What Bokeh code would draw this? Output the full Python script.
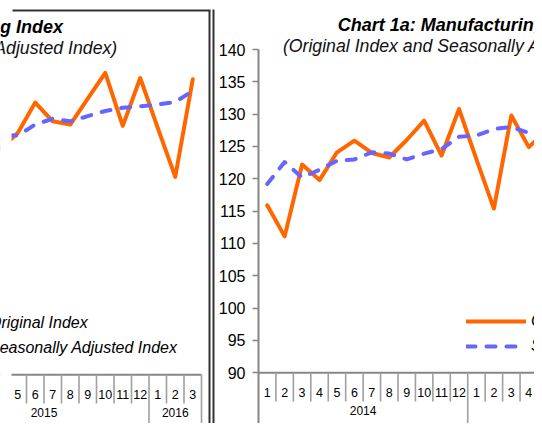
from bokeh.plotting import figure
from bokeh.models import LinearAxis, FixedTicker, Label, Legend, LegendItem, Range1d
from bokeh.layouts import row
from bokeh.core.properties import value
from bokeh.embed import file_html
from bokeh.resources import INLINE

# ---------------- data ----------------
YEARS = ["2014", "2015", "2016"]
YEAR_LENGTHS = [12, 12, 3]
MONTHS = ["1", "2", "3", "4", "5", "6", "7", "8", "9", "10", "11", "12",
          "1", "2", "3", "4", "5", "6", "7", "8", "9", "10", "11", "12",
          "1", "2", "3"]
ORIGINAL = [115.9, 111.1, 122.2, 119.8, 124.1, 125.9, 124.0, 123.3, 126.0, 129.0, 123.6, 130.8,
            123.0, 115.4, 129.8, 124.9, 127.4, 132.1, 129.2, 128.7, 132.7, 136.7, 128.5, 135.9,
            128.2, 120.6, 135.7]
SEASONALLY_ADJUSTED = [119.2, 122.6, 120.2, 121.4, 122.8, 123.0, 124.1, 123.9, 123.0, 123.9, 124.6, 126.5,
                       126.7, 127.7, 128.0, 127.1, 127.0, 128.7, 129.6, 129.2, 130.0, 130.8, 131.3, 131.5,
                       131.8, 132.2, 133.9]
Y_TICKS = [90, 95, 100, 105, 110, 115, 120, 125, 130, 135, 140]
SERIES = ["Original Index", "Seasonally Adjusted Index"]
TITLE = "Chart 1a: Manufacturing Index"
SUBTITLE = "(Original Index and Seasonally Adjusted Index)"

# ---------------- style / layout ----------------
FONT = "Liberation Sans"
ORANGE = "#FF6600"
BLUE = "#6666FF"
AXIS_GREY = "#868686"
CELL_GREY = "#a0a0a0"
FRAME_DARK = "#333333"

PPC = 17.5      # pixels per category
PPU = 6.466     # pixels per index point
H = 423
Y_MIN, Y_MAX = 90, 140

MONTH_TEXT_Y = Y_MIN - 19.5 / PPU
YEAR_TEXT_Y = Y_MIN - 37.5 / PPU
CELL_TICK_Y = Y_MIN - 28.7 / PPU
GROUP_TICK_Y = Y_MIN - 75 / PPU
TITLE_Y = Y_MAX + 25 / PPU
SUBTITLE_Y = Y_MAX + 3.5 / PPU
LEGEND_BOTTOM = Y_MAX - 306.7 / PPU

n = len(MONTHS)
xs = list(range(n))

# year group geometry (derived from data)
starts, ends = [], []
acc = 0
for L in YEAR_LENGTHS:
    starts.append(acc)
    acc += L
    ends.append(acc)
year_centers = [(s + e - 1) / 2 for s, e in zip(starts, ends)]
short_sep = [i + 0.5 for i in range(n - 1) if (i + 1) not in starts]
long_sep = [e - 0.5 for e in ends]


def make_figure(width, x_start, y_end, border_left):
    frame_w = width - border_left
    p = figure(width=width, height=H,
               x_range=Range1d(x_start, x_start + frame_w / PPC),
               y_range=Range1d(y_end - H / PPU, y_end),
               x_axis_location=None, y_axis_location=None,
               toolbar_location=None, output_backend="svg",
               min_border_left=border_left, min_border_right=0,
               min_border_top=0, min_border_bottom=0,
               outline_line_color=None,
               background_fill_color="white", border_fill_color="white")
    p.grid.visible = False
    return p


def draw_chart(p, title_x, legend_x, mask_right=None):
    x_start, x_end = p.x_range.start, p.x_range.end
    y_start, y_end = p.y_range.start, p.y_range.end
    # series
    r1 = p.line(xs, ORIGINAL, line_color=ORANGE, line_width=4,
                line_join="round", line_cap="round")
    r2 = p.line(xs, SEASONALLY_ADJUSTED, line_color=BLUE, line_width=4,
                line_dash="9 11", line_join="round", line_cap="round")
    # category axis
    p.segment(x0=[-0.5], y0=[Y_MIN], x1=[n - 0.5], y1=[Y_MIN],
              line_color=AXIS_GREY, line_width=2)
    p.segment(x0=short_sep, y0=[Y_MIN] * len(short_sep), x1=short_sep,
              y1=[CELL_TICK_Y] * len(short_sep), line_color=CELL_GREY, line_width=1.6)
    p.segment(x0=long_sep, y0=[Y_MIN] * len(long_sep), x1=long_sep,
              y1=[GROUP_TICK_Y] * len(long_sep), line_color=CELL_GREY, line_width=1.6)
    if mask_right is not None:
        # the crop of the left-hand chart object hides its plot edge
        p.quad(left=[x_start - 3], right=[mask_right], bottom=[y_start - 3],
               top=[y_end + 3], fill_color="white", line_color="white", line_width=2)
        edge = x_start + (mask_right - x_start) * 0.3
        p.segment(x0=[edge], y0=[y_start - 3], x1=[edge], y1=[y_end + 3],
                  line_color="white", line_width=9)
    vis_m = [i for i in xs if x_start + 0.25 <= i <= x_end - 0.25]
    p.text(x=vis_m, y=[MONTH_TEXT_Y] * len(vis_m), text=[MONTHS[i] for i in vis_m],
           text_align="center", text_baseline="middle", text_font=value(FONT),
           text_font_size=value("12.5px"), text_color="black")
    vis_y = [k for k, c in enumerate(year_centers) if x_start + 0.8 <= c <= x_end - 0.8]
    p.text(x=[year_centers[k] for k in vis_y], y=[YEAR_TEXT_Y] * len(vis_y),
           text=[YEARS[k] for k in vis_y], text_align="center",
           text_baseline="middle", text_font=value(FONT), text_font_size=value("12px"),
           text_color="black")
    # titles
    p.add_layout(Label(x=title_x, y=TITLE_Y, text=TITLE, text_align="center",
                       text_baseline="middle", text_font=FONT, text_font_style="bold italic",
                       text_font_size="18px", text_color="black"))
    p.add_layout(Label(x=title_x, y=SUBTITLE_Y, text=SUBTITLE, text_align="center",
                       text_baseline="middle", text_font=FONT, text_font_style="italic",
                       text_font_size="17.7px", text_color="#111111"))
    # legend
    legend = Legend(items=[LegendItem(label=SERIES[0], renderers=[r1]),
                           LegendItem(label=SERIES[1], renderers=[r2])],
                    location=((legend_x - x_start) * PPC, (LEGEND_BOTTOM - y_start) * PPU),
                    glyph_width=60, glyph_height=20, label_height=20, spacing=5,
                    padding=0, margin=0, label_standoff=5,
                    border_line_alpha=0, background_fill_alpha=0,
                    label_text_font=FONT, label_text_font_style="italic",
                    label_text_font_size="16px", label_text_color="black")
    p.add_layout(legend)


# ---------------- left panel (right-hand part of the chart) ----------------
LEFT_W = 215
left_x_start = (n - 0.5) - 201 / PPC
left_y_end = Y_MAX + 51 / PPU
left = make_figure(LEFT_W, left_x_start, left_y_end, 0)


def lx(px):
    return left_x_start + px / PPC


def ly(py):
    return left_y_end - py / PPU


draw_chart(left, title_x=lx(-67), legend_x=lx(-76), mask_right=lx(10))

# frames of the two chart objects
left.segment(x0=[lx(12), lx(209), lx(213)],
             y0=[ly(10), ly(10), ly(9)],
             x1=[lx(210), lx(209), lx(213)],
             y1=[ly(10), ly(440), ly(440)],
             line_color=FRAME_DARK, line_width=2)

# ---------------- right panel (left-hand part of the chart) ----------------
RIGHT_W = 319
AXIS_PX = 257   # position of the value axis in the picture
right = make_figure(RIGHT_W, -0.5, Y_MAX + 49 / PPU, AXIS_PX - LEFT_W)


def rx(px):
    return -0.5 + (px - AXIS_PX) / PPC


right.add_layout(LinearAxis(ticker=FixedTicker(ticks=Y_TICKS),
                            bounds=(right.y_range.start, Y_MAX),
                            axis_line_color=AXIS_GREY, axis_line_width=2,
                            major_tick_line_color=AXIS_GREY, major_tick_line_width=1.5,
                            major_tick_out=6, major_tick_in=0,
                            minor_tick_line_color=None, major_label_standoff=7,
                            major_label_text_font=FONT, major_label_text_font_size="16px",
                            major_label_text_color="black"), "left")
draw_chart(right, title_x=rx(466.5), legend_x=rx(465))

layout = row(left, right)
open("out.html", "w").write(file_html(layout, INLINE))
